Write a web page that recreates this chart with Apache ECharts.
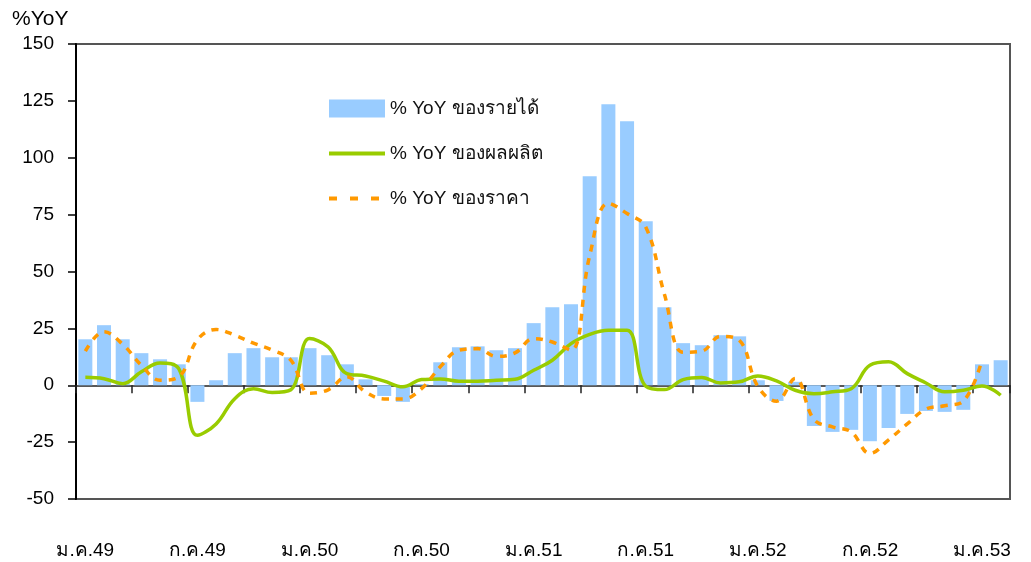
<!DOCTYPE html>
<html>
<head>
<meta charset="utf-8">
<script src="https://cdn.jsdelivr.net/npm/echarts@6/dist/echarts.min.js"></script>
<style>
  html, body { margin: 0; padding: 0; background: #fff; }
  #chart { width: 1031px; height: 562px; }
</style>
</head>
<body>
<div id="chart"></div>
<script>
var monthNames = ['ม.ค.', 'ก.พ.', 'มี.ค.', 'เม.ย.', 'พ.ค.', 'มิ.ย.', 'ก.ค.', 'ส.ค.', 'ก.ย.', 'ต.ค.', 'พ.ย.', 'ธ.ค.']
var years = ['49', '50', '51', '52', '53']

// % YoY ของรายได้ (bars)
var incomeYoY = [
  20.2, 26.4, 20.2, 14.1, 11.4, 9.2, -7.3, 2.2, 14.1, 16.3, 12.3, 12.3,
  16.3, 13.2, 9.2, 2.6, -4.7, -7.3, 0.5, 10.1, 16.7, 17.1, 15.4, 16.3,
  27.3, 34.3, 35.6, 91.9, 123.5, 116.0, 72.1, 34.3, 18.5, 17.6, 22.0, 21.5,
  2.2, -6.9, 1.5, -17.9, -20.5, -19.6, -24.6, -18.8, -12.6, -11.3, -11.7, -10.8,
  9.2, 11.0
]
// % YoY ของผลผลิต (green line)
var outputYoY = [
  3.5, 2.9, 0.7, 5.9, 9.8, 7.3, -22, -17, -5.9, -1.5, -3.2, -2,
  20.5, 16.8, 5.1, 4.1, 1.8, -0.7, 2.5, 2.8, 1.8, 1.8, 2.2, 2.6,
  6.6, 11, 18.3, 22.4, 24.2, 24.2, -0.4, -1.9, 2.5, 3.4, 1.0, 1.5,
  4.1, 1.9, -2.2, -3.7, -2.9, -1.5, 8.8, 10.3, 5.1, 1.0, -2.9, -2.2,
  -0.3, -4.4
]
// % YoY ของราคา (orange dashed line)
var priceYoY = [
  15, 23.5, 18, 8.8, 2.2, 3.7, 20, 24.5, 22, 18.5, 15.5, 11,
  -3.5, -2, 3.7, -3, -6, -6, -1.5, 8.1, 15.4, 16.1, 12.7, 14.2,
  20.5, 19, 15.4, 57, 80, 75.5, 69.6, 40, 14.5, 15, 21.5, 19.8,
  -0.5, -7, 3, -15, -18.3, -20.5, -30, -24, -17, -10.5, -9, -7,
  11, null
]
var yTicks = { min: -50, max: 150, interval: 25 }

var categories = []
for (var i = 0; i < incomeYoY.length; i++) {
  categories.push(monthNames[i % 12] + years[Math.floor(i / 12)])
}

var chart = echarts.init(document.getElementById('chart'))
var font = 'Arial, "Liberation Sans", "DejaVu Sans", sans-serif'

chart.setOption({
  animation: false,
  backgroundColor: '#fff',
  textStyle: { fontFamily: font },
  title: {
    text: '%YoY',
    left: 12,
    top: 9,
    padding: 0,
    textStyle: { fontSize: 21, fontWeight: 'normal', color: '#000', fontFamily: font }
  },
  grid: {
    left: 76,
    right: 21,
    top: 44,
    bottom: 63,
    show: true,
    borderColor: '#555',
    borderWidth: 2,
    containLabel: false,
    outerBoundsMode: 'none'
  },
  legend: {
    orient: 'vertical',
    left: 327,
    top: 99,
    padding: 0,
    itemWidth: 56,
    itemHeight: 18,
    itemGap: 26,
    textStyle: { fontSize: 19, color: '#111', fontFamily: font },
    data: [
      { name: '% YoY ของรายได้', icon: 'rect' },
      { name: '% YoY ของผลผลิต', itemStyle: { opacity: 0 }, lineStyle: { width: 4 } },
      { name: '% YoY ของราคา', itemStyle: { opacity: 0 }, lineStyle: { width: 4, type: [8, 13] } }
    ]
  },
  xAxis: [
    {
      // zero line with quarterly ticks
      type: 'category',
      data: categories,
      axisLine: { onZero: true, lineStyle: { color: '#222', width: 1.5 } },
      axisTick: { show: true, interval: 2, length: 8, lineStyle: { color: '#222', width: 1.5 } },
      axisLabel: { show: false },
      splitLine: { show: false }
    },
    {
      // labels along the bottom edge
      type: 'category',
      data: categories,
      position: 'bottom',
      axisLine: { show: false, onZero: false },
      axisTick: { show: false },
      axisLabel: { interval: 5, margin: 42, fontSize: 19, color: '#000' },
      splitLine: { show: false }
    }
  ],
  yAxis: {
    type: 'value',
    min: yTicks.min,
    max: yTicks.max,
    interval: yTicks.interval,
    axisLine: { show: true, lineStyle: { color: '#000', width: 2 } },
    axisTick: { show: true, length: 8, lineStyle: { color: '#000', width: 1.5 } },
    axisLabel: { fontSize: 19, color: '#000', margin: 22 },
    splitLine: { show: false }
  },
  series: [
    {
      name: '% YoY ของรายได้',
      type: 'bar',
      data: incomeYoY,
      barCategoryGap: '25%',
      itemStyle: { color: '#99CCFF' }
    },
    {
      name: '% YoY ของผลผลิต',
      type: 'line',
      data: outputYoY,
      smooth: 0.4,
      symbol: 'none',
      itemStyle: { color: '#99CC00' },
      lineStyle: { color: '#99CC00', width: 3.5 }
    },
    {
      name: '% YoY ของราคา',
      type: 'line',
      data: priceYoY,
      smooth: 0.4,
      symbol: 'none',
      itemStyle: { color: '#FF9900' },
      lineStyle: { color: '#FF9900', width: 3.5, type: [7, 7] }
    }
  ]
})
</script>
</body>
</html>
